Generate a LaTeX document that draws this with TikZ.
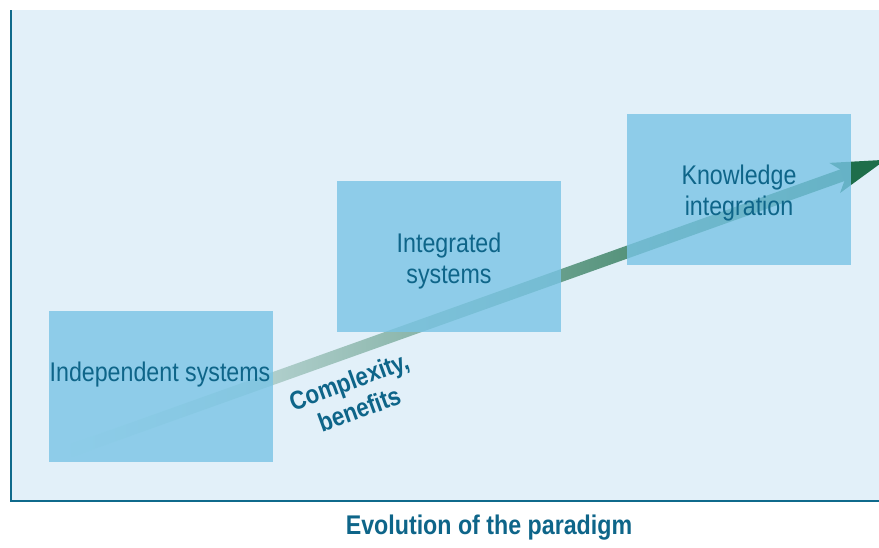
\documentclass[tikz,border=0pt]{standalone}
\usepackage{fontspec}
\setmainfont[FakeStretch=0.86]{Liberation Sans}
\definecolor{panelbg}{HTML}{E2F0F9}
\definecolor{boxfill}{RGB}{121,196,229}
\definecolor{axiscol}{HTML}{0F6A8C}
\definecolor{txtcol}{HTML}{0E6589}
\definecolor{arrowgreen}{HTML}{1E6E4A}
\begin{document}
\begin{tikzpicture}[x=1pt,y=-1pt,
  boxstyle/.style={draw=none,fill=boxfill,fill opacity=0.8,minimum width=224pt,minimum height=151pt,inner sep=0pt},
  boxtext/.style={text=txtcol,align=center,font=\fontsize{27}{31}\selectfont,inner sep=0pt},
  boldtext/.style={text=txtcol,align=center,font=\fontsize{26}{30}\selectfont\bfseries,inner sep=0pt}]
\useasboundingbox (0,0) rectangle (879,547);
% panel
\fill[panelbg] (11,10) rectangle (879,501);
\draw[axiscol,line width=2.5pt] (11,10) -- (11,501) -- (879,501);
% arrow
\coordinate (astart) at (70,451);
\coordinate (aend) at (847,173.6);
\begin{scope}[shift={(astart)},rotate=19.65]
  \shade[left color=panelbg,right color=arrowgreen] (0,-6.2) rectangle (826,6.2);
  \fill[arrowgreen] (820,-6.2) -- (812,-16) -- (866,0) -- (812,16) -- (820,6.2) -- cycle;
\end{scope}
% boxes
\node[boxstyle] (b1) at (161,386.5) {};
\node[boxstyle] (b2) at (449,256.5) {};
\node[boxstyle] (b3) at (739,189.5) {};
% texts
\node[boxtext] (t1) at (160,375) {Independent systems};
\node[boxtext] (t2) at (449,261) {Integrated\\systems};
\node[boxtext] (t3) at (739,193) {Knowledge\\integration};
\node[boldtext,rotate=20] (cx) at (354,395) {Complexity,\\benefits};
\node[boldtext,font=\fontsize{27}{30}\selectfont\bfseries] (ev) at (489,528) {Evolution of the paradigm};
\end{tikzpicture}
\end{document}
